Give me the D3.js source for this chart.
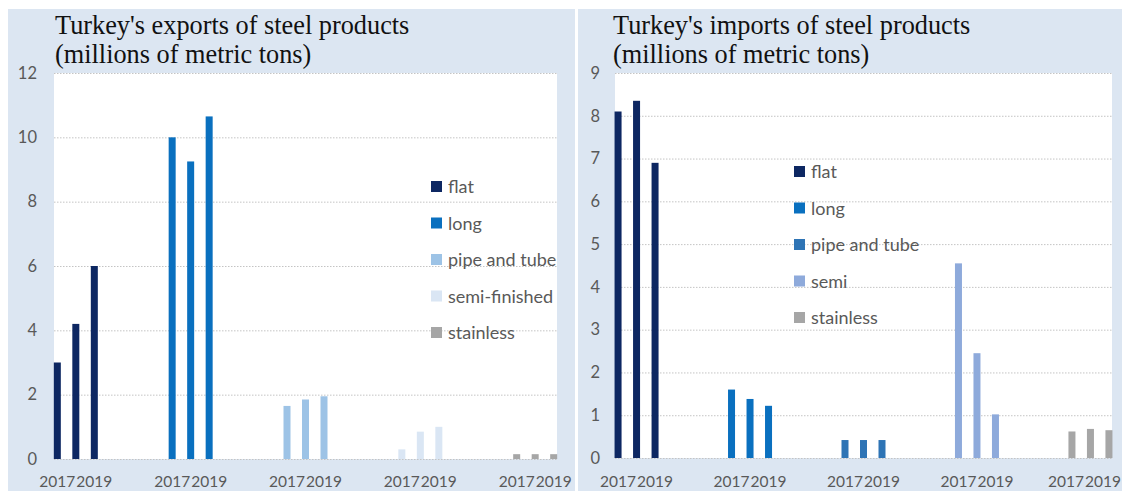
<!DOCTYPE html>
<html>
<head>
<meta charset="utf-8">
<script src="https://cdn.jsdelivr.net/npm/d3@7"></script>
<style>
  body { margin: 0; background: #ffffff; }
  svg { display: block; }
  .tick-text { font-family: Lato, "Noto Sans", sans-serif; fill: #595959; }
  .title-text { font-family: "Liberation Serif", "DejaVu Serif", serif; fill: #111111; }
</style>
</head>
<body>
<svg id="chart" width="1122" height="491"></svg>
<script>
// values (millions of metric tons)
const years = ["2017", "2018", "2019"];
const shownYears = ["2017", "2019"];

const exportProducts = ["flat", "long", "pipe and tube", "semi-finished", "stainless"];
const exportFlat = [3.0, 4.2, 6.0];
const exportLong = [10.0, 9.25, 10.65];
const exportPipe = [1.65, 1.85, 1.95];
const exportSemi = [0.3, 0.85, 1.0];
const exportStainless = [0.15, 0.15, 0.15];
const exportTicks = [0, 2, 4, 6, 8, 10, 12];
const exportColors = ["#0d2762", "#0a70bf", "#9dc3e6", "#dae6f4", "#a6a6a6"];

const importProducts = ["flat", "long", "pipe and tube", "semi", "stainless"];
const importFlat = [8.1, 8.35, 6.9];
const importLong = [1.6, 1.38, 1.22];
const importPipe = [0.42, 0.42, 0.42];
const importSemi = [4.55, 2.45, 1.02];
const importStainless = [0.62, 0.68, 0.65];
const importTicks = [0, 1, 2, 3, 4, 5, 6, 7, 8, 9];
const importColors = ["#0d2762", "#0a70bf", "#2e74b5", "#8eaadb", "#a6a6a6"];

const PANEL_BG = "#dce6f2";
const WIDTH = 1122;
const HEIGHT = 491;
const BAR_WIDTH = 7;

const svg = d3.select("#chart");

function drawPanel(opts) {
    const g = svg.append("g");

    g.append("rect")
    .attr("x", opts.panelX)
    .attr("y", 9)
    .attr("width", opts.panelW)
    .attr("height", HEIGHT - 9)
    .attr("fill", PANEL_BG);

    g.append("rect")
    .attr("x", opts.left)
    .attr("y", opts.top)
    .attr("width", opts.right - opts.left)
    .attr("height", opts.bottom - opts.top)
    .attr("fill", "#ffffff");

    const y = d3.scaleLinear()
    .domain([0, d3.max(opts.ticks)])
    .range([opts.bottom, opts.top]);

    const x = d3.scalePoint()
    .domain(opts.products)
    .range([opts.left, opts.right])
    .padding(0.19);

    // offset of each year inside a product group
    const xYear = d3.scalePoint()
    .domain(years)
    .range([-18.5, 18.5]);

    const color = d3.scaleOrdinal()
    .domain(opts.products)
    .range(opts.colors);

    // dotted gridlines
    g.selectAll(".grid")
    .data(opts.ticks)
    .join("line")
    .attr("class", "grid")
    .attr("x1", opts.left)
    .attr("x2", opts.right)
    .attr("y1", d => y(d) + 0.5)
    .attr("y2", d => y(d) + 0.5)
    .attr("stroke", "#c4c4c4")
    .attr("stroke-width", 1)
    .attr("stroke-dasharray", "1.5,1.5");

    const yAxis = g.append("g")
    .attr("transform", `translate(${opts.labelX},0)`)
    .call(d3.axisLeft(y).tickValues(opts.ticks).tickSize(0).tickPadding(0));
    yAxis.select(".domain").remove();
    yAxis.selectAll("text")
    .attr("class", "tick-text")
    .attr("font-size", 16.5)
    .attr("fill", "#595959");

    // bars
    opts.products.forEach((product, i) => {
        const rows = opts.values[i].map((v, j) => ({ product: product, year: years[j], value: v }));
        g.selectAll(".bar-" + i)
        .data(rows)
        .join("rect")
        .attr("class", "bar-" + i)
        .attr("x", d => x(d.product) + xYear(d.year) - BAR_WIDTH / 2)
        .attr("y", d => y(d.value))
        .attr("width", BAR_WIDTH)
        .attr("height", d => y(0) - y(d.value))
        .attr("fill", color(product));

        const labels = g.selectAll(".xlab-" + i)
        .data(shownYears)
        .join("text")
        .attr("class", "tick-text xlab-" + i)
        .attr("x", d => x(product) + xYear(d))
        .attr("y", 487)
        .attr("text-anchor", "middle")
        .attr("font-size", 15.5)
        .text(d => d);

        // push the whole label pair left if the last one runs off the picture
        let overflow = 0;
        labels.each(function() {
            const right = +d3.select(this).attr("x") + this.getComputedTextLength() / 2;
            overflow = Math.max(overflow, right - (WIDTH - 1));
        });
        if (overflow > 0) {
            labels.attr("x", d => x(product) + xYear(d) - overflow);
        }
    });

    // legend
    const legend = g.selectAll(".legend")
    .data(opts.products)
    .join("g")
    .attr("class", "legend")
    .attr("transform", (d, i) => `translate(${opts.legendX},${opts.legendY + i * 36.5})`);

    legend.append("rect")
    .attr("x", 0)
    .attr("y", -6)
    .attr("width", 11)
    .attr("height", 11)
    .attr("fill", d => color(d));

    legend.append("text")
    .attr("class", "tick-text")
    .attr("x", 17)
    .attr("y", 0)
    .attr("dy", "0.35em")
    .attr("font-size", 18)
    .text(d => d);

    // title
    g.selectAll(".title-text")
    .data(opts.title)
    .join("text")
    .attr("class", "title-text")
    .attr("x", opts.titleX)
    .attr("y", (d, i) => 34 + i * 29)
    .attr("font-size", 26.3)
    .text(d => d);
}

drawPanel({
    panelX: 8, panelW: 567,
    left: 54, right: 557, top: 73, bottom: 459,
    labelX: 37,
    products: exportProducts,
    values: [exportFlat, exportLong, exportPipe, exportSemi, exportStainless],
    colors: exportColors,
    ticks: exportTicks,
    legendX: 431, legendY: 187,
    titleX: 55,
    title: ["Turkey's exports of steel products", "(millions of metric tons)"]
});

drawPanel({
    panelX: 578, panelW: 544,
    left: 615, right: 1112, top: 73, bottom: 458,
    labelX: 600,
    products: importProducts,
    values: [importFlat, importLong, importPipe, importSemi, importStainless],
    colors: importColors,
    ticks: importTicks,
    legendX: 794, legendY: 172,
    titleX: 613,
    title: ["Turkey's imports of steel products", "(millions of metric tons)"]
});
</script>
</body>
</html>
